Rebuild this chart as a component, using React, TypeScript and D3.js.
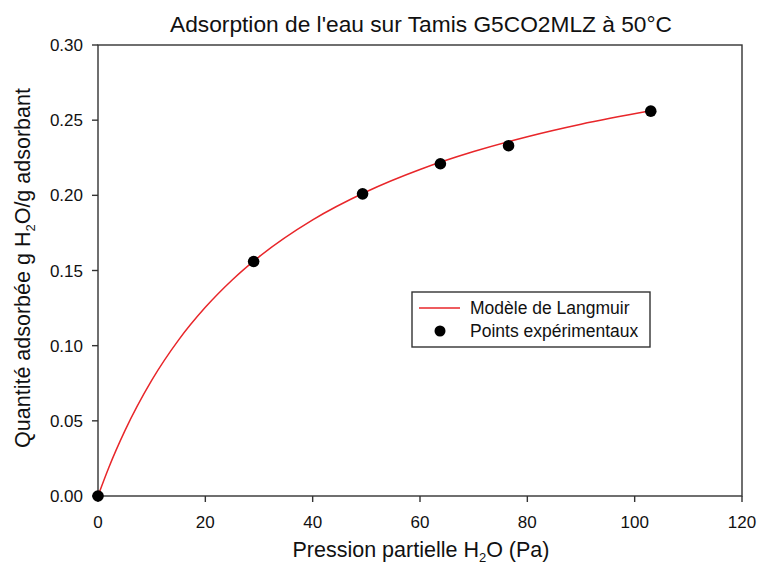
import React from "react";
import * as d3 from "d3";

const pointP = [0, 29.0, 49.3, 63.8, 76.5, 103.0];
const pointQ = [0, 0.156, 0.201, 0.221, 0.233, 0.256];

const curveP = [0, 2, 5, 10, 15, 20, 25, 30, 40, 50, 60, 70, 80, 90, 103];
const curveQ = [0, 0.0188, 0.0433, 0.0769, 0.1037, 0.1255, 0.1437, 0.1591, 0.1837, 0.2024, 0.2172, 0.2291, 0.239, 0.2473, 0.2562];

const xTicks = [0, 20, 40, 60, 80, 100, 120];
const yTicks = [0, 0.05, 0.1, 0.15, 0.2, 0.25, 0.3];

const title = "Adsorption de l'eau sur Tamis G5CO2MLZ à 50°C";
const legendLabels = ["Modèle de Langmuir", "Points expérimentaux"];

export default function App() {
  const W = 761, H = 564;
  const left = 98, right = 742, top = 45, bottom = 496;
  const x = d3.scaleLinear().domain([0, 120]).range([left, right]);
  const y = d3.scaleLinear().domain([0, 0.3]).range([bottom, top]);
  const line = d3
    .line<number>()
    .x((_, i) => x(curveP[i]))
    .y((d) => y(d))
    .curve(d3.curveMonotoneX);
  const font = "Arial, 'Liberation Sans', sans-serif";
  return (
    <svg width={W} height={H} style={{ position: "absolute", left: 0, top: 0 }} fontFamily={font}>
      <rect x={0} y={0} width={W} height={H} fill="#fff" />
      <text x={421} y={32} textAnchor="middle" fontSize={22} fill="#111" textLength={502} lengthAdjust="spacingAndGlyphs">{title}</text>
      <rect x={left} y={top} width={right - left} height={bottom - top} fill="none" stroke="#333" strokeWidth={1.4} />
      {xTicks.map((t) => (
        <g key={"x" + t}>
          <line x1={x(t)} x2={x(t)} y1={bottom} y2={bottom + 6} stroke="#333" strokeWidth={1.4} />
          <text x={x(t)} y={bottom + 32} textAnchor="middle" fontSize={17} fill="#111">{t}</text>
        </g>
      ))}
      {yTicks.map((t) => (
        <g key={"y" + t}>
          <line x1={left - 6} x2={left} y1={y(t)} y2={y(t)} stroke="#333" strokeWidth={1.4} />
          <text x={left - 15} y={y(t) + 6} textAnchor="end" fontSize={17} fill="#111">{t.toFixed(2)}</text>
        </g>
      ))}
      <text x={421} y={557} textAnchor="middle" fontSize={21.5} fill="#111">
        Pression partielle H<tspan dy={5} fontSize={13}>2</tspan><tspan dy={-5}>O (Pa)</tspan>
      </text>
      <text transform="translate(30,268) rotate(-90)" textAnchor="middle" fontSize={21.5} fill="#111">
        Quantité adsorbée g H<tspan dy={5} fontSize={13}>2</tspan><tspan dy={-5}>O/g adsorbant</tspan>
      </text>
      <path d={line(curveQ) || ""} fill="none" stroke="#e8262a" strokeWidth={1.5} />
      {pointP.map((p, i) => (
        <circle key={i} cx={x(p)} cy={y(pointQ[i])} r={5.8} fill="#000" />
      ))}
      <rect x={412} y={292} width={238} height={55} fill="#fff" stroke="#333" strokeWidth={1.4} />
      <line x1={419} x2={460} y1={308} y2={308} stroke="#e8262a" strokeWidth={1.5} />
      <circle cx={440} cy={331} r={5.5} fill="#000" />
      <text x={470} y={314} fontSize={17.5} fill="#111">{legendLabels[0]}</text>
      <text x={470} y={337} fontSize={17.5} fill="#111">{legendLabels[1]}</text>
    </svg>
  );
}
